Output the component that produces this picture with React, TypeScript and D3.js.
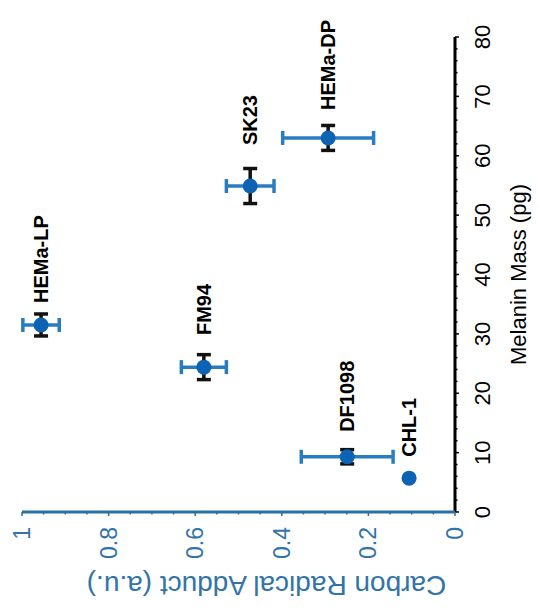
import React from "react";
import * as d3 from "d3";

const samples = ["HEMa-LP", "FM94", "SK23", "DF1098", "CHL-1", "HEMa-DP"];
const melaninMass = [31.5, 24.4, 54.9, 9.3, 5.7, 63.0];
const melaninErr = [1.85, 2.1, 2.95, 1.2, 0, 2.1];
const radicalAdduct = [0.956, 0.58, 0.473, 0.249, 0.106, 0.293];
const radicalErr = [0.042, 0.052, 0.055, 0.106, 0, 0.105];
const labelMass = [35.2, 29.8, 61.8, 13.5, 9.3, 67.7];
const massTicks = [0, 10, 20, 30, 40, 50, 60, 70, 80];
const radTicks = [0, 0.2, 0.4, 0.6, 0.8, 1];
const radTickLabels = ["0", "0.2", "0.4", "0.6", "0.8", "1"];

const W = 539;
const H = 613;
const FONT = "'Liberation Sans', Arial, Helvetica, sans-serif";
const BLUE_AXIS = "#2b6f9f";
const BLUE_TEXT = "#3274a8";
const BLUE_BAR = "#2a7cc0";
const BLUE_MARK = "#0c63b4";

export default function App() {
  // Chart drawn in un-rotated frame (613 wide x 539 tall), then rotated -90deg
  const x = d3.scaleLinear().domain([0, 80]).range([101, 576]);
  const y = d3.scaleLinear().domain([0, 1]).range([455, 22]);
  const massMinor = d3.range(0, 80.01, 2);
  const radMinor = d3.range(0, 1.001, 0.05);
  const cap = 7;

  return (
    <svg
      width={W}
      height={H}
      style={{ position: "absolute", left: 0, top: 0, background: "#fff" }}
    >
      <rect width={W} height={H} fill="#fff" />
      <g transform={`translate(0,${H}) rotate(-90)`}>
        {/* x axis (black, melanin mass) */}
        <line x1={x(0)} x2={x(80)} y1={y(0)} y2={y(0)} stroke="#000" strokeWidth={3} />
        {massMinor.map((t) => (
          <line key={"mm" + t} x1={x(t)} x2={x(t)} y1={y(0)} y2={y(0) + (t % 10 === 0 ? 4 : 2.5)} stroke="#000" strokeWidth={1.5} />
        ))}
        {massTicks.map((t) => (
          <text key={"mt" + t} x={x(t)} y={y(0) + 35} textAnchor="middle" fontSize={22} fontFamily={FONT} fill="#000">
            {t}
          </text>
        ))}
        <text x={(x(0) + x(80)) / 2} y={y(0) + 71} textAnchor="middle" fontSize={22} fontFamily={FONT} fill="#000">
          Melanin Mass (pg)
        </text>

        {/* y axis (blue, carbon radical adduct) */}
        <line x1={x(0)} x2={x(0)} y1={y(0)} y2={y(1)} stroke={BLUE_AXIS} strokeWidth={3} />
        {radMinor.map((t) => (
          <line key={"rm" + t} x1={x(0)} x2={x(0) - (Math.round(t * 100) % 20 === 0 ? 4 : 2.5)} y1={y(t)} y2={y(t)} stroke={BLUE_AXIS} strokeWidth={1.5} />
        ))}
        {radTicks.map((t, i) => (
          <text key={"rt" + t} x={x(0) - 15} y={y(t)} textAnchor="end" dominantBaseline="central" fontSize={23} fontFamily={FONT} fill={BLUE_TEXT}>
            {radTickLabels[i]}
          </text>
        ))}
        <text
          transform={`translate(37,${(y(0) + y(1)) / 2 + 28}) rotate(-90)`}
          textAnchor="middle"
          fontSize={28}
          fontFamily={FONT}
          fill={BLUE_TEXT}
        >
          Carbon Radical Adduct (a.u.)
        </text>

        {/* data */}
        {samples.map((s, i) => {
          const cx = x(melaninMass[i]);
          const cy = y(radicalAdduct[i]);
          const ex = melaninErr[i];
          const ey = radicalErr[i];
          return (
            <g key={s}>
              {ex > 0 && (
                <g stroke="#111" strokeWidth={3.5}>
                  <line x1={x(melaninMass[i] - ex)} x2={x(melaninMass[i] + ex)} y1={cy} y2={cy} />
                  <line x1={x(melaninMass[i] - ex)} x2={x(melaninMass[i] - ex)} y1={cy - cap} y2={cy + cap} />
                  <line x1={x(melaninMass[i] + ex)} x2={x(melaninMass[i] + ex)} y1={cy - cap} y2={cy + cap} />
                </g>
              )}
              {ey > 0 && (
                <g stroke={BLUE_BAR} strokeWidth={3.5}>
                  <line x1={cx} x2={cx} y1={y(radicalAdduct[i] - ey)} y2={y(radicalAdduct[i] + ey)} />
                  <line x1={cx - cap} x2={cx + cap} y1={y(radicalAdduct[i] - ey)} y2={y(radicalAdduct[i] - ey)} />
                  <line x1={cx - cap} x2={cx + cap} y1={y(radicalAdduct[i] + ey)} y2={y(radicalAdduct[i] + ey)} />
                </g>
              )}
              <circle cx={cx} cy={cy} r={7.5} fill={BLUE_MARK} />
              <text x={x(labelMass[i])} y={cy} dominantBaseline="central" fontSize={20} fontWeight="bold" fontFamily={FONT} fill="#000">
                {s}
              </text>
            </g>
          );
        })}
      </g>
    </svg>
  );
}
